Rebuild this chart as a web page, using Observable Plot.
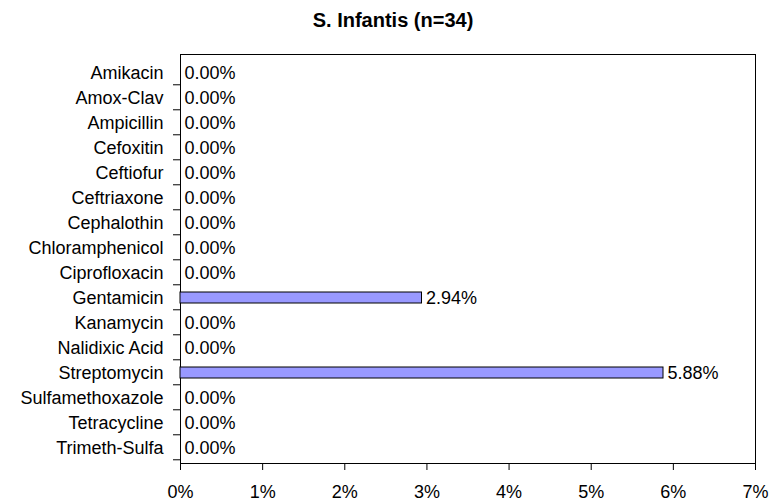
<!DOCTYPE html>
<html><head><meta charset="utf-8">
<script src="https://cdn.jsdelivr.net/npm/d3@7"></script>
<script src="https://cdn.jsdelivr.net/npm/@observablehq/plot@0.6"></script>
<style>
body{margin:0;background:#fff;font-family:"Liberation Sans",Arial,sans-serif;}
#title{height:40px;line-height:40px;text-align:center;font-weight:bold;font-size:20px;color:#000;width:786px;overflow:visible;}
</style></head><body>
<div id="title">S. Infantis (n=34)</div>
<div id="chart"></div>
<script>
const categories = ["Amikacin","Amox-Clav","Ampicillin","Cefoxitin","Ceftiofur","Ceftriaxone","Cephalothin","Chloramphenicol","Ciprofloxacin","Gentamicin","Kanamycin","Nalidixic Acid","Streptomycin","Sulfamethoxazole","Tetracycline","Trimeth-Sulfa"];
const values = [0,0,0,0,0,0,0,0,0,2.94,0,0,5.88,0,0,0];
const xTicks = [0,1,2,3,4,5,6,7];
const data = categories.map((c,i)=>({drug:c, pct:values[i]}));
const bars = data.filter(d=>d.pct>0);
const svgH = 462, mTop = 14, mBottom = 39;
const band = (svgH - mTop - mBottom)/categories.length;
const chart = Plot.plot({
  width: 783, height: svgH,
  marginLeft: 180, marginRight: 28, marginTop: mTop, marginBottom: mBottom,
  style: {fontFamily: '"Liberation Sans", Arial, sans-serif', fontSize: "18px", color: "#000", background: "#fff", overflow: "visible", display: "block"},
  x: {domain: [0,7]},
  y: {domain: categories, padding: 0},
  marks: [
    Plot.frame({stroke: "#000", strokeOpacity: 1}),
    Plot.barX(bars, {x: "pct", y: "drug", fill: "#9999ff", stroke: "#000", strokeWidth: 1, insetTop: 8, insetBottom: 6}),
    Plot.text(data, {x: "pct", y: "drug", text: d=>d.pct.toFixed(2)+"%", textAnchor: "start", dx: 4, dy: 1.5, fill: "#000", fontSize: 18}),
    Plot.axisY({ticks: categories, tickSize: 7, dy: band/2, text: null, label: null, stroke: "#000"}),
    Plot.axisY({ticks: categories, tickSize: 0, tickPadding: 17, dy: 1.5, fontSize: 18, label: null, fill: "#000"}),
    Plot.axisX({ticks: xTicks, tickSize: 7, tickPadding: 15, tickFormat: d=>d+"%", label: null, fontSize: 18, fill: "#000", stroke: "#000"})
  ]
});
document.getElementById("chart").appendChild(chart);
</script>
</body></html>
